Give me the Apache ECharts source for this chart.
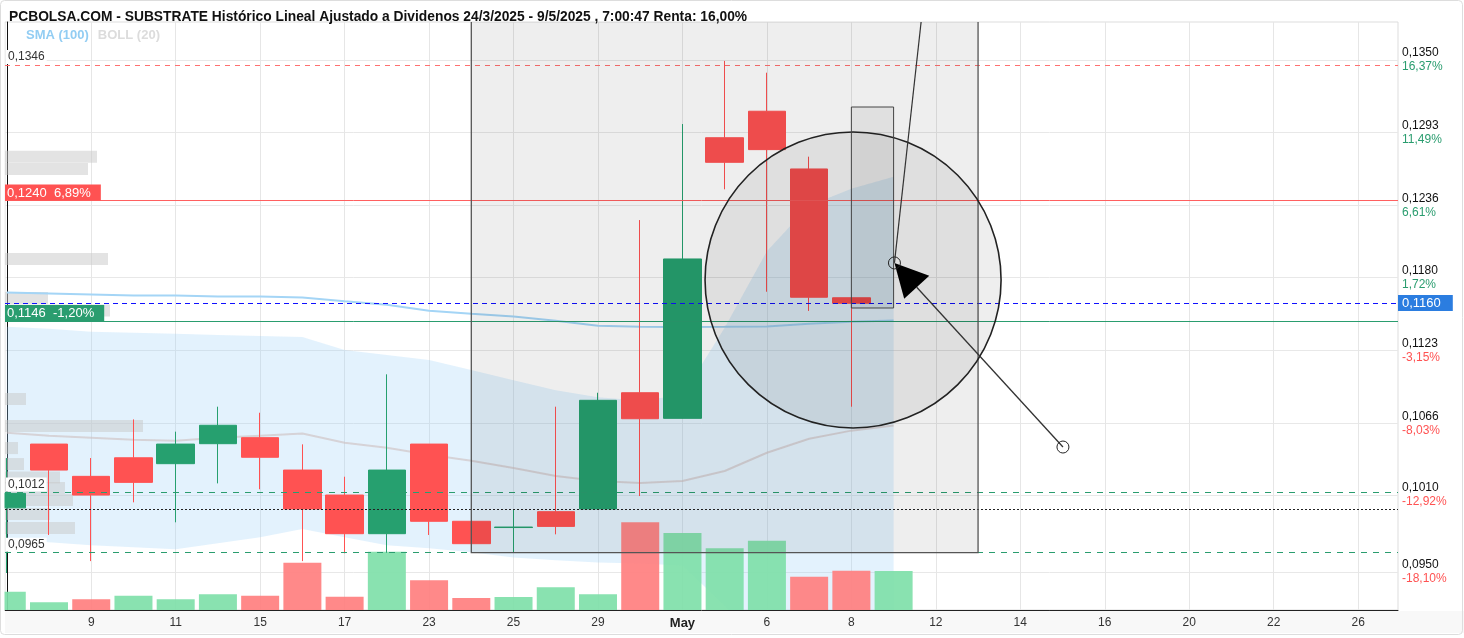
<!DOCTYPE html>
<html><head><meta charset="utf-8">
<script src="https://cdn.jsdelivr.net/npm/echarts@6/dist/echarts.min.js"></script>
<style>html,body{margin:0;padding:0;background:#fff}#c{width:1464px;height:638px}</style>
</head><body><div id="c"></div>
<script>
// ---- data ----
const dates = ['7','8','9','10','11','14','15','16','17','22','23','24','25','28','29','30','May','5','6','7','8','9','12','13','14','15','16','19','20','21','22','23','26'];
const xTickIdx = [2,4,6,8,10,12,14,16,18,20,22,24,26,28,30,32];
const opens  = [0.10000,0.10498,0.10246,0.10391,0.10345,0.10501,0.10548,0.10295,0.10100,0.09798,0.10498,0.09895,0.09846,0.09970,0.09991,0.10899,0.10699,0.12891,0.13098,0.12647,0.11641];
const closes = [0.10113,0.10295,0.10100,0.10199,0.10498,0.10645,0.10395,0.09991,0.09798,0.10295,0.09895,0.09720,0.09850,0.09855,0.10840,0.10696,0.11944,0.12699,0.12798,0.11645,0.11598];
const lows   = [0.09491,0.09788,0.09584,0.10043,0.09887,0.10191,0.10145,0.09584,0.09645,0.09649,0.09788,0.09720,0.09649,0.09793,0.09991,0.10092,0.10699,0.12488,0.11688,0.11538,0.10790];
const highs  = [0.10389,0.10498,0.10389,0.10691,0.10595,0.10790,0.10743,0.10496,0.10243,0.11043,0.10498,0.09895,0.09988,0.10790,0.10899,0.12248,0.12998,0.13491,0.13399,0.12743,0.11641];
const volumes = [18300,7700,10700,14300,10700,15700,14300,47300,13300,58300,29700,12000,13000,22700,15700,87700,77000,61700,69300,33300,39300,39000];
const volUp   = [1,1,0,1,1,1,0,0,0,1,0,0,1,1,1,0,1,1,1,0,0,1];
const bollUpper  = [0.11414,0.11398,0.11375,0.11367,0.11359,0.11351,0.11343,0.11335,0.11233,0.11194,0.11154,0.11076,0.10997,0.10918,0.10863,0.10839,0.10879,0.11406,0.12005,0.12359,0.12493,0.12587];
const bollMiddle = [0.10587,0.10564,0.10548,0.10532,0.10524,0.10548,0.10564,0.10580,0.10509,0.10469,0.10414,0.10367,0.10312,0.10249,0.10209,0.10194,0.10209,0.10288,0.10430,0.10540,0.10603,0.10643];
const bollLower  = [0.09747,0.09731,0.09708,0.09692,0.09676,0.09723,0.09771,0.09834,0.09771,0.09708,0.09684,0.09653,0.09613,0.09590,0.09574,0.09566,0.09550,0.09235,0.08870,0.08740,0.08730,0.08715];
const sma100     = [0.11682,0.11674,0.11666,0.11658,0.11658,0.11650,0.11650,0.11643,0.11613,0.11587,0.11540,0.11517,0.11495,0.11461,0.11422,0.11414,0.11412,0.11414,0.11417,0.11438,0.11454,0.11464];
const yTicks = [0.1350,0.1293,0.1236,0.1180,0.1123,0.1066,0.1010,0.0950];
const yPct   = ['16,37%','11,49%','6,61%','1,72%','-3,15%','-8,03%','-12,92%','-18,10%'];
const levelValues = [0.1346,0.1240,0.1160,0.1146,0.1012,0.0999,0.0965];
const levelTexts  = ['0,1346','0,1240  6,89%','0,1160','0,1146  -1,20%','0,1012','','0,0965'];
const profilePrice = [0.12743,0.12647,0.11944,0.11639,0.11541,0.10850,0.10639,0.10467,0.10342,0.10237,0.10155,0.10061,0.09952,0.09842];
const profileVol   = [92,83,103,43,105,21,138,13,19,55,60,68,45,70];
const annoBox    = [[11,0.0965],[23,0.1450]];
const annoCircle = [20.04,0.1178];
const annoCircleR = 3.505;
const annoRect   = [[20,0.11561],[21,0.13131]];
const annoLine   = [[21.02,0.11913],[21.72,0.1400]];
const annoArrow  = [[25.01,0.10475],[21.02,0.11913]];

// ---- chart ----
const FONT = 'Liberation Sans';
const chart = echarts.init(document.getElementById('c'));
const idx = a => a.map((v,i)=>[i,v]);
const fmt4 = v => v.toFixed(4).replace('.',',');

const lineStyles = [
  {color:'#ff7070', type:[5,5], width:1, opacity:1},
  {color:'#ff6060', type:'solid', width:1, opacity:1},
  {color:'#1010ff', type:[5,4], width:1, opacity:1},
  {color:'#2a9d6f', type:'solid', width:1, opacity:1},
  {color:'#2a9d6f', type:[6,6], width:1, opacity:1},
  {color:'#222222', type:[2,2], width:1, opacity:1},
  {color:'#2a9d6f', type:[6,6], width:1, opacity:1}
];
const labelStyles = [
  {position:'insideStartTop', backgroundColor:'#fff', color:'#333', padding:[1,2], distance:[1,1]},
  {position:'insideStartTop', backgroundColor:'#ff5252', color:'#fff', padding:[2,10,1,2], distance:[0,0], fontSize:13},
  {position:'end', backgroundColor:'#2b7de0', color:'#fff', padding:[2,12,1,4], distance:0, fontSize:13},
  {position:'insideStartTop', backgroundColor:'#2a9d6f', color:'#fff', padding:[2,10,1,2], distance:[0,0], fontSize:13},
  {position:'insideStartTop', backgroundColor:'#fff', color:'#333', padding:[1,2], distance:[1,1]},
  {show:false},
  {position:'insideStartTop', backgroundColor:'#fff', color:'#333', padding:[1,2], distance:[1,1]}
];
const levelSeries = levelValues.map((v,i)=>({
  name:'level'+i, type:'line', data:[], z:4, silent:true, itemStyle:{color:lineStyles[i].color},
  markLine:{symbol:['none','none'], silent:true, precision:6, animation:false,
    lineStyle: lineStyles[i],
    label: Object.assign({formatter: levelTexts[i], fontSize:12, fontFamily:FONT}, labelStyles[i]),
    emphasis:{disabled:true},
    data:[{yAxis: v}]}
}));

const option = {
  animation:false,
  textStyle:{fontFamily:FONT},
  title:{text:'PCBOLSA.COM - SUBSTRATE Histórico Lineal Ajustado a Dividenos 24/3/2025 - 9/5/2025 , 7:00:47 Renta: 16,00%',
    left:4, top:5, textStyle:{fontSize:13.8, fontWeight:'bold', color:'#111', fontFamily:FONT}},
  legend:{left:16, top:23, icon:'none', itemWidth:0, itemGap:4, selectedMode:false,
    textStyle:{fontSize:13, fontWeight:'bold', fontFamily:FONT},
    data:[{name:'SMA (100)', textStyle:{color:'#92cdf3'}},{name:'BOLL (20)', textStyle:{color:'#dcdcdc'}}]},
  graphic:[
    {type:'rect', z:-10, shape:{x:5, y:611, width:1459, height:22}, style:{fill:'#f8f8f8'}},
    {type:'rect', z:100, shape:{x:0, y:22, width:4.5, height:589}, style:{fill:'#fff'}},
    {type:'rect', z:101, shape:{x:0.5, y:0.5, width:1462, height:634, r:4}, style:{fill:'none', stroke:'#dddddd'}}
  ],
  grid:{left:5, right:66, top:22, bottom:28, show:true, borderColor:'#dddddd', borderWidth:1},
  xAxis:[
    {type:'value', min:-0.042, max:32.944, gridIndex:0,
      axisLine:{show:true, onZero:false, lineStyle:{color:'#222'}},
      axisTick:{show:false, customValues:xTickIdx},
      splitLine:{show:true, lineStyle:{color:'#e6e6e6'}},
      axisLabel:{customValues:xTickIdx, margin:7, fontSize:12, color:'#333',
        formatter:v=>{const t=dates[Math.round(v)]; return t==='May' ? '{b|May}' : t;},
        rich:{b:{fontWeight:'bold', fontSize:13, color:'#222'}}}},
    {type:'value', min:0, max:1393, gridIndex:0, show:false}
  ],
  yAxis:[
    {type:'value', position:'right', min:0.09202, max:0.13795, gridIndex:0,
      axisLine:{show:true, lineStyle:{color:'#111'}},
      axisTick:{show:false, customValues:yTicks},
      splitLine:{show:true, lineStyle:{color:'#e8e8e8'}},
      axisLabel:{customValues:yTicks, margin:4, fontSize:12, lineHeight:14,
        formatter:v=>{const i=yTicks.findIndex(t=>Math.abs(t-v)<1e-7); const p=yPct[i]; return '{p|'+fmt4(v)+'}\n{'+(p[0]==='-'?'r':'g')+'|'+p+'}';},
        rich:{p:{color:'#111', fontSize:12, lineHeight:14}, g:{color:'#2a9d6f', fontSize:12, lineHeight:14}, r:{color:'#ff5252', fontSize:12, lineHeight:14}}}},
    {type:'value', min:0, max:588000, gridIndex:0, show:false}
  ],
  series:[
    {name:'bollBand', type:'custom', xAxisIndex:0, yAxisIndex:0, z:1, silent:true, clip:true,
      data:[[0, bollMiddle[0]]],
      renderItem:(params, api)=>{
        const pts = [];
        bollUpper.forEach((v,i)=>pts.push(api.coord([i, v])));
        for (let i = bollLower.length-1; i >= 0; i--) pts.push(api.coord([i, bollLower[i]]));
        return {type:'polygon', shape:{points:pts}, style:{fill:'rgba(150,208,248,0.27)'}};
      }},
    {name:'vol', type:'bar', xAxisIndex:0, yAxisIndex:1, barWidth:38, z:2, silent:true, clip:true,
      data: volumes.map((v,i)=>({value:[i,v], itemStyle:{color: volUp[i] ? '#7fe0a9' : '#ff7f7f', opacity:0.92}}))},
    {name:'BOLL (20)', type:'line', symbol:'none', z:2, silent:true,
      lineStyle:{color:'rgba(205,190,190,0.6)', width:2}, itemStyle:{color:'#dcdcdc'}, data: idx(bollMiddle)},
    {name:'SMA (100)', type:'line', symbol:'none', z:2, silent:true,
      lineStyle:{color:'#a4d5f6', width:2}, itemStyle:{color:'#92cdf3'}, data: idx(sma100)},
    {name:'profile', type:'custom', xAxisIndex:1, yAxisIndex:0, z:2, silent:true, clip:true,
      data: profilePrice.map((p,i)=>[profileVol[i], p]),
      renderItem:(params, api)=>{
        const a = api.coord([0, api.value(1)]); const b = api.coord([api.value(0), api.value(1)]);
        return {type:'rect', shape:{x:a[0], y:a[1]-6, width:b[0]-a[0], height:12}, style:{fill:'rgba(200,200,200,0.5)'}};
      }},
    {name:'price', type:'candlestick', xAxisIndex:0, yAxisIndex:0, barWidth:38, z:3, silent:true, clip:true,
      itemStyle:{color:'#26a06f', color0:'#ff5252', borderColor:'#26a06f', borderColor0:'#ff5252', borderWidth:1},
      data: opens.map((o,i)=>[i, o, closes[i], lows[i], highs[i]])},
    ...levelSeries,
    {name:'drawings', type:'custom', xAxisIndex:0, yAxisIndex:0, z:5, silent:true, clip:true,
      data:[[0, 0.11]],
      renderItem:(params, api)=>{
        const rectOf = (a,b)=>{const p=api.coord(a), q=api.coord(b); return {x:Math.min(p[0],q[0]), y:Math.min(p[1],q[1]), width:Math.abs(q[0]-p[0]), height:Math.abs(q[1]-p[1])};};
        const c = api.coord(annoCircle); const r = api.size([annoCircleR, 0])[0];
        const l0 = api.coord(annoLine[0]), l1 = api.coord(annoLine[1]);
        const t0 = api.coord(annoArrow[0]), t1 = api.coord(annoArrow[1]);
        const dx = t1[0]-t0[0], dy = t1[1]-t0[1], len = Math.hypot(dx,dy), ux = dx/len, uy = dy/len;
        const bx = t1[0]-ux*33, by = t1[1]-uy*33;
        return {type:'group', children:[
          {type:'rect', shape:rectOf(annoBox[0], annoBox[1]), style:{fill:'rgba(0,0,0,0.065)', stroke:'#555', lineWidth:1.3}},
          {type:'circle', shape:{cx:c[0], cy:c[1], r:r}, style:{fill:'rgba(0,0,0,0.065)', stroke:'#222', lineWidth:1.6}},
          {type:'rect', shape:rectOf(annoRect[0], annoRect[1]), style:{fill:'rgba(0,0,0,0.06)', stroke:'#444', lineWidth:1}},
          {type:'line', shape:{x1:l0[0], y1:l0[1], x2:l1[0], y2:l1[1]}, style:{stroke:'#333', lineWidth:1.2}},
          {type:'line', shape:{x1:t0[0], y1:t0[1], x2:bx, y2:by}, style:{stroke:'#333', lineWidth:1.3}},
          {type:'polygon', shape:{points:[[t1[0],t1[1]],[bx-uy*17, by+ux*17],[bx+uy*17, by-ux*17]]}, style:{fill:'#000'}},
          {type:'circle', shape:{cx:l0[0], cy:l0[1], r:6}, style:{fill:'none', stroke:'#222', lineWidth:1}},
          {type:'circle', shape:{cx:t0[0], cy:t0[1], r:6}, style:{fill:'none', stroke:'#222', lineWidth:1}}
        ]};
      }}
  ]
};
chart.setOption(option);
</script></body></html>
